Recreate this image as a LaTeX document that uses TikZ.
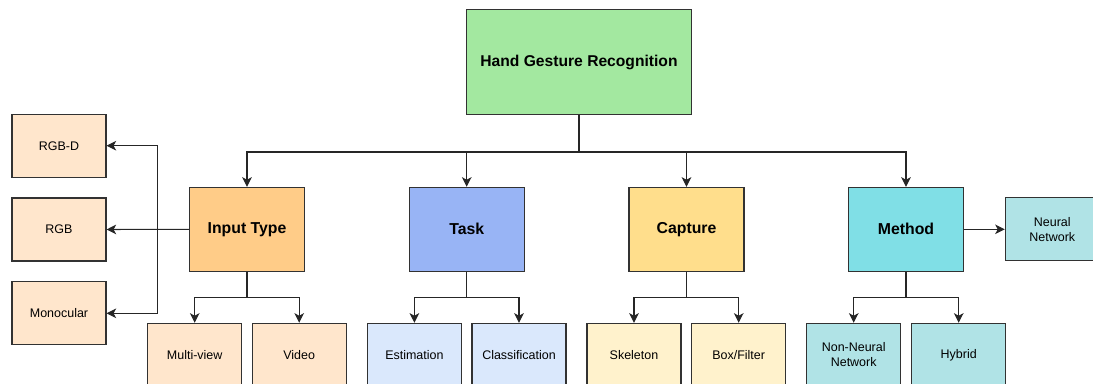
\documentclass[tikz,border=0pt]{standalone}
\usepackage{fontspec}
\setmainfont{Liberation Sans}
\usetikzlibrary{arrows.meta}

\definecolor{rootgreen}{RGB}{163,232,160}
\definecolor{inorange}{RGB}{255,204,136}
\definecolor{taskblue}{RGB}{152,180,245}
\definecolor{capyellow}{RGB}{255,222,140}
\definecolor{methcyan}{RGB}{128,223,230}
\definecolor{lorange}{RGB}{255,230,204}
\definecolor{lblue}{RGB}{218,232,252}
\definecolor{lyellow}{RGB}{255,242,204}
\definecolor{lteal}{RGB}{176,227,230}
\definecolor{edgegray}{RGB}{50,50,50}

\tikzset{
  box/.style={draw=edgegray,line width=0.6pt,align=center,inner sep=1pt},
  rootbox/.style={box,fill=rootgreen,minimum width=4.5cm,minimum height=2.1cm,
    font=\fontsize{8.9}{10}\selectfont\bfseries},
  catbox/.style={box,minimum width=2.3cm,minimum height=1.68cm,
    font=\fontsize{9}{10}\selectfont\bfseries},
  leafbox/.style={box,minimum width=1.88cm,minimum height=1.26cm,
    font=\fontsize{7.1}{8.5}\selectfont},
  arr/.style={-{Stealth[length=5.5pt,width=5.5pt,inset=1.5pt]},line width=0.6pt,draw=black!85},
  ln/.style={line width=0.6pt,draw=black!85}
}

\begin{document}
\begin{tikzpicture}[x=0.02cm,y=-0.02cm]
       \useasboundingbox (0,0) rectangle (1093,383);
       % root and categories
       \node[rootbox](hgr)at(579,62){Hand Gesture Recognition};
       \node[catbox,fill=inorange](input)at(247,229.3){Input Type};
       \node[catbox,fill=taskblue](task)at(466.7,229.3){Task};
       \node[catbox,fill=capyellow](capture)at(686.5,229.3){Capture};
       \node[catbox,fill=methcyan](method)at(906,229.3){Method};
       % leaves
       \node[leafbox,fill=lorange](rgbd)at(59,145.7){RGB-D};
       \node[leafbox,fill=lorange](rgb)at(59,229.5){RGB};
       \node[leafbox,fill=lorange](mono)at(59,313.3){Monocular};
       \node[leafbox,fill=lorange](mview)at(194.7,354.8){Multi-view};
       \node[leafbox,fill=lorange](video)at(299.2,354.8){Video};
       \node[leafbox,fill=lblue](estim)at(414.4,354.8){Estimation};
       \node[leafbox,fill=lblue](classif)at(519,354.8){Classification};
       \node[leafbox,fill=lyellow](skel)at(634,354.8){Skeleton};
       \node[leafbox,fill=lyellow](boxfilt)at(738.7,354.8){Box/Filter};
       \node[leafbox,fill=lteal](nonnn)at(853.7,354.8){Non-Neural\\Network};
       \node[leafbox,fill=lteal](hybrid)at(958.7,354.8){Hybrid};
       \node[leafbox,fill=lteal](nn)at(1052.3,229.3){Neural\\Network};
       \coordinate(lsplit)at(157.7,229.5);
       % connectors
       \draw[ln](hgr.south)--++(0,37)coordinate(bus);
       \foreach \c in {input,task,capture,method}
         \draw[arr](bus)-|(\c.north);
       \draw[ln](input.south)--++(0,26)coordinate(inb);
       \draw[arr](inb)-|(mview.north);
       \draw[arr](inb)-|(video.north);
       \draw[ln](task.south)--++(0,26)coordinate(tb);
       \draw[arr](tb)-|(estim.north);
       \draw[arr](tb)-|(classif.north);
       \draw[ln](capture.south)--++(0,26)coordinate(cb);
       \draw[arr](cb)-|(skel.north);
       \draw[arr](cb)-|(boxfilt.north);
       \draw[ln](method.south)--++(0,26)coordinate(mb);
       \draw[arr](mb)-|(nonnn.north);
       \draw[arr](mb)-|(hybrid.north);
       \draw[arr](method.east)--(nn.west);
       \draw[arr](input.west)--(rgb.east);
       \draw[arr](lsplit)|-(rgbd.east);
       \draw[arr](lsplit)|-(mono.east);
      \end{tikzpicture}
\end{document}
